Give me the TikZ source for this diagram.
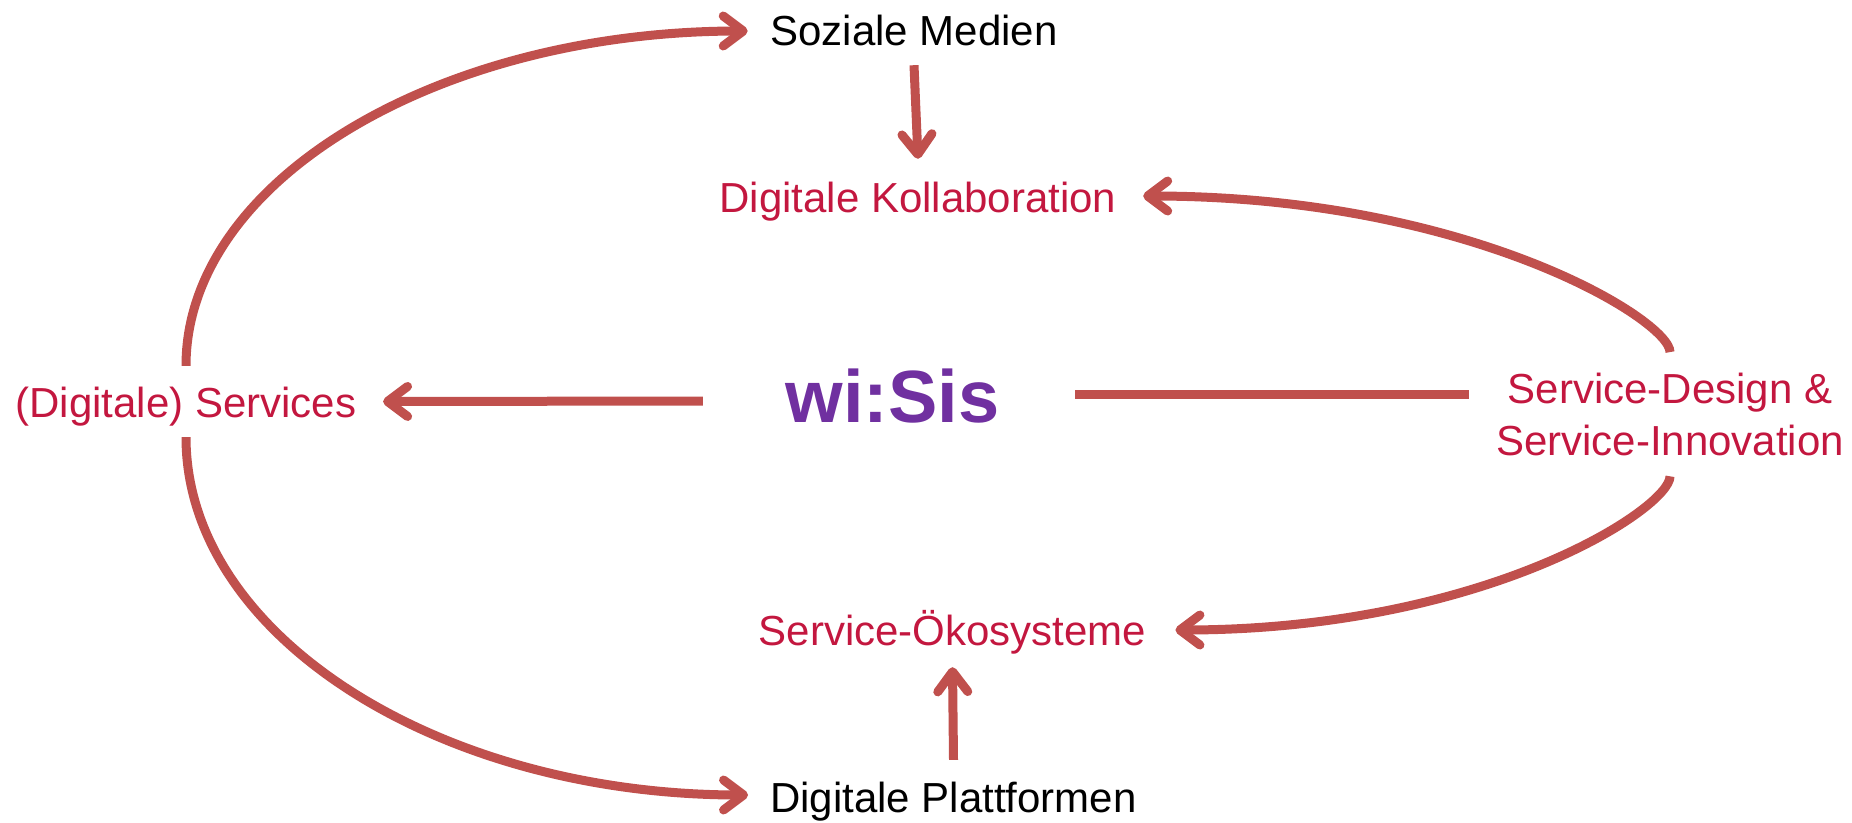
\documentclass[tikz,border=0pt]{standalone}
\usepackage{fontspec}
\setmainfont{Liberation Sans}
\usetikzlibrary{arrows.meta}
\definecolor{linered}{HTML}{C0504D}
\definecolor{textred}{HTML}{C3173F}
\definecolor{wipurple}{HTML}{7030A0}
\begin{document}
\begin{tikzpicture}[x=1pt,y=-1pt,
  lbl/.style={font=\fontsize{42}{52}\selectfont, inner ysep=0pt, anchor=base},
  redtxt/.style={text=textred},
  conn/.style={draw=linered, line width=9pt, -{Straight Barb[length=20pt,width=30pt,round]}},
  plainconn/.style={draw=linered, line width=9pt}]
\useasboundingbox (0,0) rectangle (1852,822);
\node[lbl, text height=48pt, text depth=20pt, inner xsep=22.5pt] (soz) at (914,45) {Soziale Medien};
\node[lbl, redtxt, text height=53pt, text depth=21pt, inner xsep=26.5pt] (kol) at (918,212) {Digitale Kollaboration};
\node[lbl, redtxt, text height=52pt, text depth=22pt, inner xsep=29pt] (eco) at (952.5,645) {Service-Ökosysteme};
\node[lbl, text height=52pt, text depth=18pt, inner xsep=22pt] (plat) at (953.5,812) {Digitale Plattformen};
\node[lbl, redtxt, text height=51pt, text depth=20pt, inner xsep=26.5pt] (serv) at (186,417) {(Digitale) Services};
\node[font=\bfseries\fontsize{74}{80}\selectfont, text=wipurple, anchor=base, inner ysep=0pt, inner xsep=79pt, text height=54pt, text depth=5pt] (wisis) at (892.5,422) {wi:Sis};
\node[font=\fontsize{42}{52}\selectfont, redtxt, align=center, inner xsep=23pt, inner ysep=20.5pt] (sdi) at (1670,414.2) {Service-Design \&\\Service-Innovation};

\draw[conn] (serv.north) .. controls +(0,-185) and +(-310,0) .. (soz.west);
\draw[conn] (serv.south) .. controls +(0,198) and +(-310,0) .. (plat.west);
\draw[conn] (soz.south) -- (kol.north);
\draw[conn] (plat.north) -- (eco.south);
\draw[conn] (sdi.north) .. controls +(0,-32) and +(327,0) .. (kol.east);
\draw[conn] (sdi.south) .. controls +(0,32) and +(310,0) .. (eco.east);
\draw[conn] ([xshift=-3.5pt,yshift=-3.5pt]wisis.west) -- (serv.east);
\draw[plainconn] ([xshift=-3.5pt,yshift=3.5pt]wisis.east) -- ([xshift=-3.5pt,yshift=3.5pt]wisis.east -| sdi.west);
\end{tikzpicture}
\end{document}
